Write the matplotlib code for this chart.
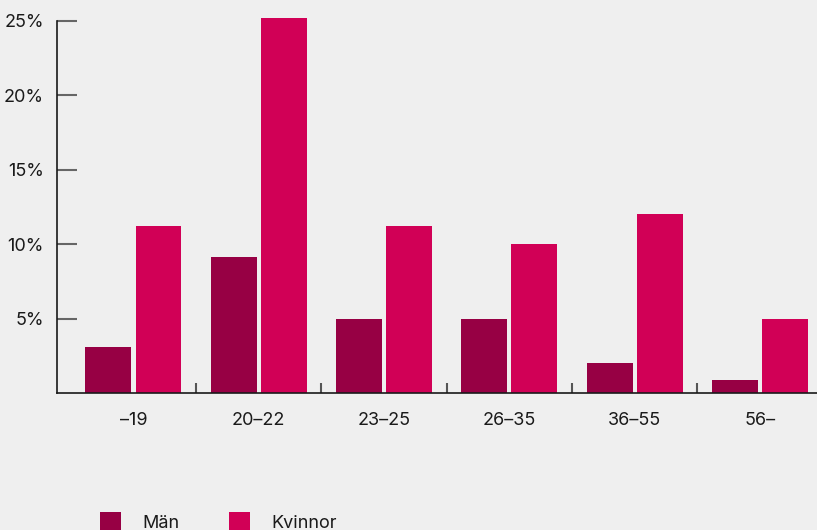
import matplotlib
matplotlib.use("Agg")
import matplotlib.pyplot as plt
from matplotlib.patches import Patch
import numpy as np

# åldersgrupper och andelar (%)
groups = ["–19", "20–22", "23–25", "26–35", "36–55", "56–"]
man = [3.1, 9.1, 5.0, 5.0, 2.0, 0.9]
kvinnor = [11.2, 25.2, 11.2, 10.0, 12.0, 5.0]
yticks = [5, 10, 15, 20, 25]

col_man = "#970044"
col_kv = "#d10056"
bg = "#efefef"

plt.rcParams["font.family"] = ["Inter", "DejaVu Sans"]

fig = plt.figure(figsize=(8.17, 5.30), dpi=100, facecolor=bg)
ax = fig.add_axes([57 / 817, 137 / 530, 760 / 817, 372.3 / 530], facecolor=bg)

x = np.arange(len(groups))
w = 0.367
off = 0.2
ax.bar(x - off, man, width=w, color=col_man, clip_on=False, zorder=2)
ax.bar(x + off, kvinnor, width=w, color=col_kv, clip_on=False, zorder=2)

ax.set_xlim(-0.61, 5.455)
ax.set_ylim(0, 25)

for s in ["top", "right"]:
    ax.spines[s].set_visible(False)
for s in ["left", "bottom"]:
    ax.spines[s].set_color("#1a1a1a")
    ax.spines[s].set_linewidth(1.2)

ax.set_yticks(yticks)
ax.set_yticklabels([f"{v}%" for v in yticks])
ax.tick_params(axis="y", direction="in", length=14.5, width=1.5, color="#666666",
               pad=9.4, labelsize=13, labelcolor="#1a1a1a")

ax.set_xticks(x)
ax.set_xticklabels(groups)
ax.tick_params(axis="x", which="major", length=0, pad=14, labelsize=13,
               labelcolor="#1a1a1a")
ax.set_xticks(x[:-1] + 0.5, minor=True)
ax.tick_params(axis="x", which="minor", direction="in", length=7, width=1.5,
               color="#555555")

handles = [Patch(facecolor=col_man, edgecolor="none"),
           Patch(facecolor=col_kv, edgecolor="none")]
fig.legend(handles, ["Män", "Kvinnor"], loc="center left",
           bbox_to_anchor=(100 / 817, 1 - 522 / 530), ncol=2, frameon=False,
           fontsize=13, handlelength=1.17, handleheight=1.17,
           handletextpad=1.15, columnspacing=2.78, borderpad=0,
           borderaxespad=0, labelcolor="#1a1a1a")

fig.savefig("out.png", dpi=100, facecolor=bg)
